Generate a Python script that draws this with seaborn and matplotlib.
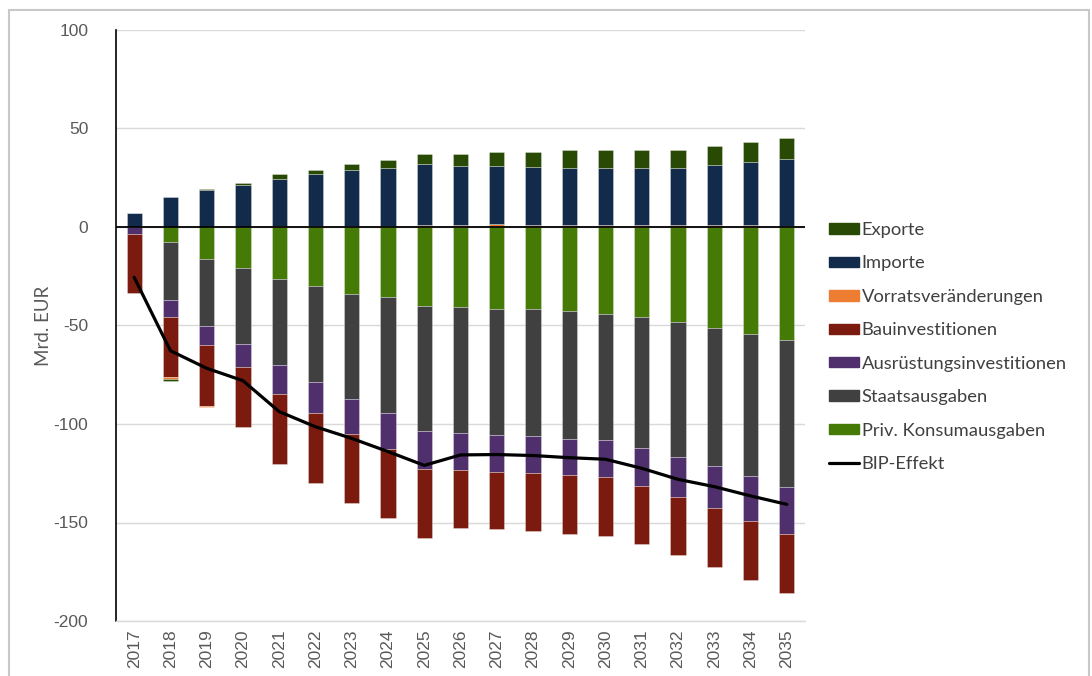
import matplotlib.pyplot as plt
import matplotlib.patches as mpatches
import seaborn as sns
import numpy as np

# Values (Mrd. EUR)
years = [str(y) for y in range(2017, 2036)]
priv_konsum = [0, -7.8, -16.1, -20.7, -26.6, -29.9, -33.8, -35.5, -40.1, -40.8,
               -41.5, -41.5, -42.6, -44.2, -45.8, -48.2, -51.1, -54.2, -57.5]
staatsausgaben = [0, -29.2, -34.1, -38.9, -43.6, -48.8, -53.7, -58.7, -63.3, -63.9,
                  -64.1, -64.6, -65.0, -64.1, -66.2, -68.4, -70.2, -72.2, -74.7]
ausruestung = [-3.4, -8.5, -9.9, -11.5, -14.4, -15.9, -17.4, -18.7, -19.6, -18.7,
               -18.6, -18.6, -18.4, -18.7, -19.5, -20.5, -21.2, -22.8, -23.8]
bau = [-29.9, -30.5, -30.7, -30.3, -35.9, -35.5, -35.4, -34.8, -35.0, -29.6,
       -29.3, -29.6, -29.7, -29.7, -29.6, -29.6, -30.1, -30.0, -30.0]
vorrat = [0, -1.2, -0.5, 0.2, 0.3, 0.3, 0.5, 0.5, 1.0, 1.2,
          1.5, 1.0, 1.0, 1.0, 1.0, 1.0, 1.0, 1.0, 0.5]
importe = [7.0, 15.4, 19.0, 21.1, 24.2, 26.4, 28.3, 29.5, 31.0, 29.8,
           29.5, 29.5, 29.1, 29.1, 28.8, 28.8, 30.5, 32.0, 34.0]
exporte = [0, -1.2, 0.3, 1.2, 2.2, 2.4, 3.3, 4.0, 4.9, 6.2,
           7.2, 7.7, 8.8, 8.8, 9.1, 9.1, 9.8, 10.0, 10.5]
bip_effekt = [-25.5, -62.8, -71.7, -78.0, -93.7, -101.4, -107.3, -114.0, -121.0, -115.7,
              -115.5, -116.0, -117.1, -117.9, -122.5, -128.1, -131.8, -136.5, -140.8]

# stacking order (from zero outward)
components = [
    ('Priv. Konsumausgaben', priv_konsum, '#467a06'),
    ('Staatsausgaben', staatsausgaben, '#404040'),
    ('Ausrüstungsinvestitionen', ausruestung, '#50306c'),
    ('Bauinvestitionen', bau, '#7b1a0e'),
    ('Vorratsveränderungen', vorrat, '#ed7d31'),
    ('Importe', importe, '#132b4b'),
    ('Exporte', exporte, '#294a05'),
]

sns.set_theme(style="white")
plt.rcParams['font.family'] = ['Liberation Sans', 'DejaVu Sans']
plt.rcParams['axes.unicode_minus'] = False

fig = plt.figure(figsize=(10.92, 6.76), dpi=100)
ax = fig.add_axes([116 / 1092, 1 - 621 / 676, (805 - 116) / 1092, (621 - 30) / 676])

x = np.arange(len(years))
pos_base = np.zeros(len(years))
neg_base = np.zeros(len(years))
handles = {}
for label, vals, color in components:
    vals = np.array(vals)
    bottom = np.where(vals >= 0, pos_base, neg_base)
    ax.bar(x, vals, bottom=bottom, width=0.42, color=color,
           edgecolor=(1, 1, 1, 0.35), linewidth=0.6, zorder=2)
    pos_base = pos_base + np.clip(vals, 0, None)
    neg_base = neg_base + np.clip(vals, None, 0)
    handles[label] = mpatches.Patch(color=color, label=label)

sns.lineplot(x=x, y=bip_effekt, color='black', linewidth=2.3, ax=ax, zorder=4)
line_handle = plt.Line2D([], [], color='black', linewidth=2.3, label='BIP-Effekt')

ax.axhline(0, color='black', linewidth=1.3, zorder=3)
ax.set_ylim(-200, 100)
ax.set_xlim(-0.5, len(years) - 0.5)
ax.set_yticks(range(-200, 101, 50))
ax.yaxis.grid(True, color='#d9d9d9', linewidth=1)
ax.set_axisbelow(True)
ax.set_xticks(x)
ax.set_xticklabels(years, rotation=90)
ax.tick_params(axis='both', length=0, labelsize=12.5, colors='#595959')
ax.tick_params(axis='x', pad=6)
ax.tick_params(axis='y', pad=20)
ax.set_ylabel('Mrd. EUR', fontsize=13.5, color='#595959', labelpad=1,
              family=['Lato', 'DejaVu Sans'])

for side in ['top', 'right']:
    ax.spines[side].set_visible(False)
ax.spines['left'].set_color('black')
ax.spines['left'].set_linewidth(1.2)
ax.spines['bottom'].set_color('#d9d9d9')
ax.spines['bottom'].set_linewidth(1)

order = ['Exporte', 'Importe', 'Vorratsveränderungen', 'Bauinvestitionen',
         'Ausrüstungsinvestitionen', 'Staatsausgaben', 'Priv. Konsumausgaben']
leg_handles = [handles[k] for k in order] + [line_handle]
fig.legend(handles=leg_handles, loc='center left',
           bbox_to_anchor=(812 / 1092, 1 - 347 / 676), frameon=False,
           prop={'family': 'Lato', 'size': 13.2}, labelcolor='#404040',
           handlelength=1.65, handleheight=0.5, handletextpad=0.15,
           labelspacing=0.95)

# light frame around the whole graphic
fig.patches.append(mpatches.Rectangle((9 / 1092, -0.05), (1089 - 9) / 1092, 1.05 - 10 / 676,
                                      transform=fig.transFigure, fill=False,
                                      edgecolor='#c8c8c8', linewidth=1.5))

fig.savefig('out.png', dpi=100)
